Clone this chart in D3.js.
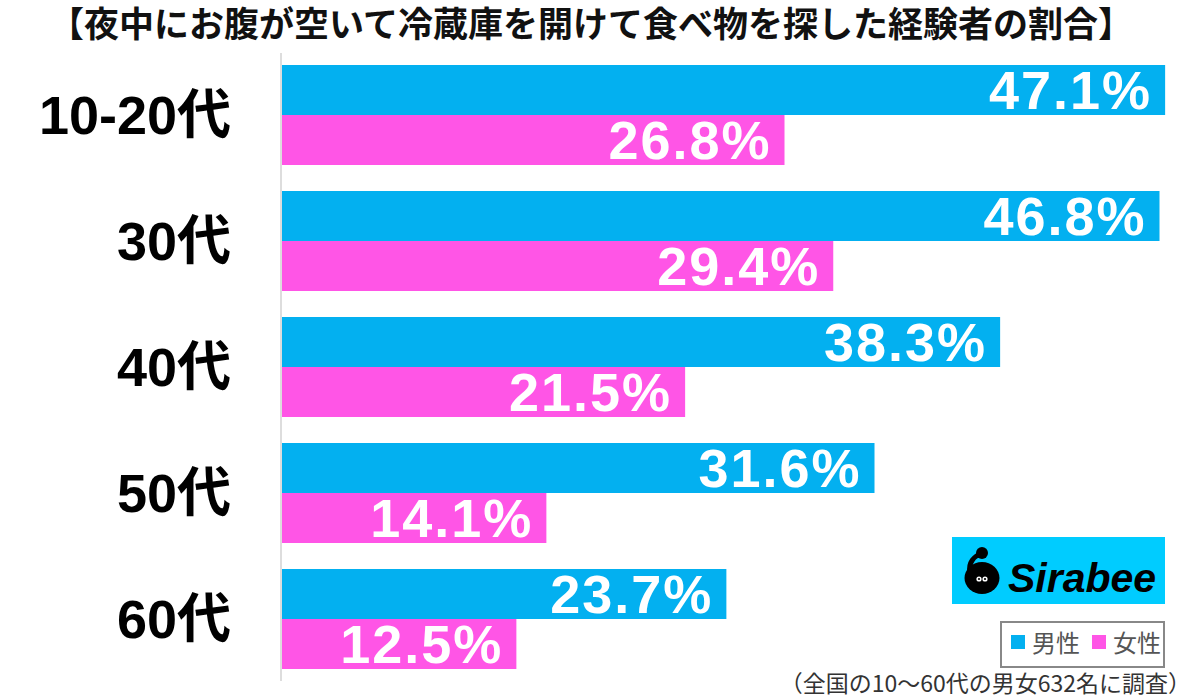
<!DOCTYPE html>
<html><head><meta charset="utf-8">
<script src="https://cdn.jsdelivr.net/npm/d3@7"></script>
<style>html,body{margin:0;padding:0;background:#fff;}svg{display:block;}</style>
</head><body>
<svg id="c" width="1200" height="699"></svg>
<script>
const title = "【夜中にお腹が空いて冷蔵庫を開けて食べ物を探した経験者の割合】";
const categories = ["10-20代", "30代", "40代", "50代", "60代"];
const seriesNames = ["男性", "女性"];
const male = [47.1, 46.8, 38.3, 31.6, 23.7];
const female = [26.8, 29.4, 21.5, 14.1, 12.5];
const footnote = "（全国の10〜60代の男女632名に調査）";
const colors = {"男性": "#03B0F0", "女性": "#FF55E6"};

const data = categories.map((c, i) => ({cat: c, values: [
  {s: "男性", v: male[i]}, {s: "女性", v: female[i]}]}));

const svg = d3.select("#c");
const x = d3.scaleLinear().domain([0, 50]).range([282, 282 + 50 * 18.75]);
const pIn = 26 / 126;
const y = d3.scaleBand().domain(categories).range([52, 682]).paddingInner(pIn).paddingOuter(pIn / 2);
const ys = d3.scaleBand().domain(seriesNames).range([0, y.bandwidth()]);

// title
svg.append("text").attr("x", 591).attr("y", 37).attr("text-anchor", "middle")
  .attr("font-family", "'Noto Sans CJK JP', sans-serif").attr("font-weight", "bold")
  .attr("font-size", 35).attr("fill", "#111").text(title);

// axis line
svg.append("line").attr("x1", 281).attr("x2", 281).attr("y1", 53).attr("y2", 681)
  .attr("stroke", "#dddddd").attr("stroke-width", 2);

const g = svg.selectAll("g.grp").data(data).join("g").attr("class", "grp")
  .attr("transform", d => `translate(0,${y(d.cat)})`);

g.selectAll("rect").data(d => d.values).join("rect")
  .attr("x", x(0)).attr("y", d => ys(d.s))
  .attr("width", d => x(d.v) - x(0)).attr("height", ys.bandwidth())
  .attr("fill", d => colors[d.s]);

g.selectAll("text.val").data(d => d.values).join("text").attr("class", "val")
  .attr("x", d => x(d.v) - 13).attr("y", d => ys(d.s) + ys.bandwidth() / 2)
  .attr("dy", "0.36em").attr("text-anchor", "end")
  .attr("font-family", "'Liberation Sans', Arial, sans-serif").attr("font-weight", "bold")
  .attr("font-size", 54).attr("letter-spacing", 2).attr("fill", "#fff")
  .text(d => d.v.toFixed(1) + "%");

g.append("text").attr("x", 231).attr("y", y.bandwidth() / 2).attr("dy", "0.36em")
  .attr("text-anchor", "end")
  .attr("font-family", "'Liberation Sans', 'Noto Sans CJK JP', sans-serif").attr("font-weight", "bold")
  .attr("font-size", 54).attr("fill", "#000").text(d => d.cat);

// logo
const logo = svg.append("g");
logo.append("rect").attr("x", 952).attr("y", 537).attr("width", 213).attr("height", 67).attr("fill", "#00CCFF");
logo.append("path").attr("d", "M982,553 C974,556 968,563 970,572").attr("fill", "none")
  .attr("stroke", "#000").attr("stroke-width", 5);
logo.append("ellipse").attr("cx", 982).attr("cy", 578).attr("rx", 17.5).attr("ry", 16).attr("fill", "#000");
logo.append("circle").attr("cx", 982).attr("cy", 553).attr("r", 6).attr("fill", "#000");
[979, 985].forEach(cx => {
  logo.append("circle").attr("cx", cx).attr("cy", 579).attr("r", 2.6).attr("fill", "#fff");
  logo.append("circle").attr("cx", cx).attr("cy", 579).attr("r", 1.1).attr("fill", "#000");
});
logo.append("text").attr("x", 1008).attr("y", 592)
  .attr("font-family", "'Liberation Sans', Arial, sans-serif").attr("font-weight", "bold")
  .attr("font-style", "italic").attr("font-size", 41).attr("fill", "#000").text("Sirabee");

// legend
const leg = svg.append("g");
leg.append("rect").attr("x", 1001).attr("y", 622).attr("width", 163).attr("height", 45)
  .attr("fill", "#fff").attr("stroke", "#888").attr("stroke-width", 2);
const legX = [1011, 1092];
seriesNames.forEach((s, i) => {
  leg.append("rect").attr("x", legX[i]).attr("y", 635).attr("width", 14).attr("height", 14).attr("fill", colors[s]);
  leg.append("text").attr("x", legX[i] + 21).attr("y", 652)
    .attr("font-family", "'Noto Sans CJK JP', sans-serif").attr("font-size", 24)
    .attr("fill", "#555").text(s);
});

// footnote
svg.append("text").attr("x", 1191).attr("y", 692).attr("text-anchor", "end")
  .attr("font-family", "'Noto Sans CJK JP', sans-serif").attr("font-size", 23)
  .attr("fill", "#333").text(footnote);
</script>
</body></html>
